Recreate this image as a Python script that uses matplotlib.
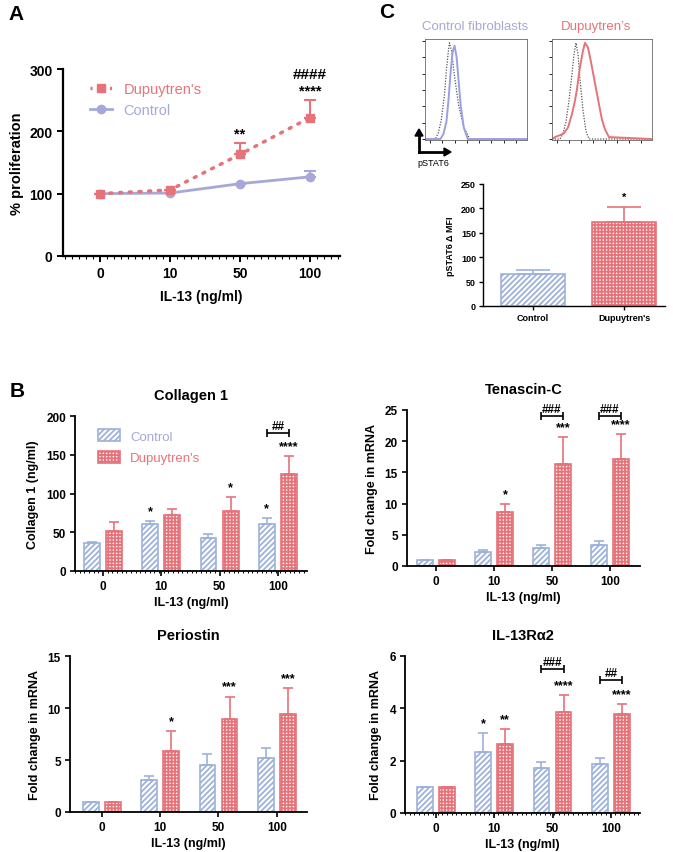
import matplotlib.pyplot as plt
import numpy as np
from matplotlib.patches import Patch
from matplotlib.lines import Line2D

plt.rcParams['font.family'] = ['Liberation Sans', 'DejaVu Sans']
plt.rcParams['hatch.linewidth'] = 1.3

lav = '#a6a9d8'
bar_blue = '#9db2db'
red = '#e6737a'

doses = ['0', '10', '50', '100']

# A - proliferation
prolif_dup = [100, 106, 163, 222]
prolif_dup_err = [0, 0, 19, 28]
prolif_ctrl = [100, 101, 116, 127]
prolif_ctrl_err = [0, 0, 0, 9]

# B - bar panels
col_ctrl = [36, 61, 43, 61]
col_ctrl_err = [2, 4, 5, 7]
col_dup = [51, 72, 77, 125]
col_dup_err = [12, 8, 19, 23]

ten_ctrl = [1.0, 2.2, 2.9, 3.4]
ten_ctrl_err = [0, 0.4, 0.4, 0.6]
ten_dup = [1.0, 8.7, 16.3, 17.1]
ten_dup_err = [0, 1.3, 4.4, 4.0]

per_ctrl = [1.0, 3.1, 4.55, 5.15]
per_ctrl_err = [0, 0.4, 1.0, 1.05]
per_dup = [1.0, 5.9, 8.9, 9.4]
per_dup_err = [0, 1.9, 2.2, 2.55]

ra2_ctrl = [1.0, 2.33, 1.72, 1.86]
ra2_ctrl_err = [0, 0.72, 0.21, 0.24]
ra2_dup = [1.0, 2.65, 3.87, 3.78]
ra2_dup_err = [0, 0.55, 0.63, 0.39]

# C - flow histograms (channel %, count % of max)
iso_l_x = [0, 10, 13, 16, 19, 21, 23, 24, 26, 29, 33, 38, 44, 100]
iso_l_y = [0, 0, 6, 20, 45, 72, 92, 100, 92, 65, 35, 12, 0, 0]
ctl_x = [0, 15, 18, 21, 23, 25, 27, 29, 31, 33, 35, 38, 42, 100]
ctl_y = [0, 0, 5, 18, 40, 68, 90, 97, 85, 60, 35, 12, 0, 0]
iso_r_x = [0, 8, 11, 14, 17, 20, 22, 24, 26, 28, 31, 34, 37, 100]
iso_r_y = [0, 0, 6, 18, 40, 68, 88, 100, 88, 62, 30, 8, 0, 0]
dup_x = [0, 3, 8, 12, 16, 20, 23, 25, 28, 31, 33, 36, 39, 43, 47, 50, 53, 57, 100]
dup_y = [0, 2, 4, 6, 12, 26, 40, 52, 75, 92, 100, 95, 80, 58, 36, 20, 10, 2, 0]

mfi_groups = ['Control', "Dupuytren's"]
mfi_vals = [65, 172]
mfi_err = [9, 31]

W, H = 673, 853
fig = plt.figure(figsize=(W / 100, H / 100), dpi=100)


def box(l, r, t, b):
    return [l / W, 1 - b / H, (r - l) / W, (b - t) / H]


def style(ax, lw=1.3):
    for s in ['top', 'right']:
        ax.spines[s].set_visible(False)
    for s in ['left', 'bottom']:
        ax.spines[s].set_linewidth(lw)


# ---------------- A ----------------
ax = fig.add_axes(box(63, 340, 70, 257))
style(ax, 1.6)
x = np.arange(4)
ax.errorbar(x, prolif_ctrl, yerr=[np.zeros(4), prolif_ctrl_err], color=lav, lw=2,
            marker='o', ms=6, capsize=4, elinewidth=1.5, capthick=1.5)
ax.errorbar(x, prolif_dup, yerr=[np.zeros(4), prolif_dup_err], color=red, lw=2.5,
            ls=(0, (0.6, 2.2)), dash_capstyle='round', marker='s', ms=6,
            capsize=4, elinewidth=1.5, capthick=1.5)
ax.set_xlim(-0.53, 3.43)
ax.set_ylim(0, 300)
ax.set_yticks([0, 100, 200, 300])
ax.set_xticks(x)
ax.set_xticklabels(doses)
ax.set_xticks(np.arange(-0.5, 3.45, 0.1), minor=True)
ax.tick_params(axis='x', which='minor', length=2, width=0.8)
ax.tick_params(labelsize=10, width=1.4, length=4)
for t in ax.get_xticklabels() + ax.get_yticklabels():
    t.set_fontweight('bold')
ax.set_xlabel('IL-13 (ng/ml)', fontsize=10, fontweight='bold', labelpad=6)
ax.set_ylabel('% proliferation', fontsize=10.5, fontweight='bold', labelpad=4)
ax.text(2, 186, '**', ha='center', va='bottom', fontsize=10.5, fontweight='bold')
ax.text(3, 254, '****', ha='center', va='bottom', fontsize=10.5, fontweight='bold')
ax.text(3, 280, '####', ha='center', va='bottom', fontsize=11, fontweight='bold')
hd = [Line2D([], [], color=red, lw=2.5, ls=(0, (0.6, 2.2)), marker='s', ms=6),
      Line2D([], [], color=lav, lw=2, marker='o', ms=6)]
ax.legend(hd, ["Dupuytren's", 'Control'], loc='upper left', bbox_to_anchor=(0.05, 1.0),
          frameon=False, fontsize=10.5, labelcolor=[red, lav], handlelength=1.5,
          labelspacing=0.45)
fig.text(8 / W, 1 - 14 / H, 'A', fontsize=15, fontweight='bold', va='center')

# ---------------- C histograms ----------------
axl = fig.add_axes(box(425, 527, 40, 141))
axr = fig.add_axes(box(552, 652, 40, 141))
axl.plot(iso_l_x, iso_l_y, color='#555555', lw=0.9, ls=(0, (1, 1.2)))
axl.plot(ctl_x, ctl_y, color='#9c9ee2', lw=1.4)
axr.plot(iso_r_x, iso_r_y, color='#555555', lw=0.9, ls=(0, (1, 1.2)))
axr.plot(dup_x, dup_y, color=red, lw=1.4)
for a in (axl, axr):
    a.set_xlim(0, 100)
    a.set_ylim(-1, 104)
    a.set_xticks(np.arange(5, 100, 12))
    a.set_yticks(np.arange(0, 104, 17))
    a.tick_params(length=2, width=0.6, labelbottom=False, labelleft=False)
    for s in a.spines.values():
        s.set_linewidth(0.6)
        s.set_color('#666666')
fig.text(475 / W, 1 - 27 / H, 'Control fibroblasts', color=lav, fontsize=9.5, ha='center', va='center')
fig.text(596 / W, 1 - 27 / H, "Dupuytren\u2019s", color=red, fontsize=9.5, ha='center', va='center')
fig.text(387 / W, 1 - 12 / H, 'C', fontsize=15, fontweight='bold', va='center', ha='center')
fig.add_artist(plt.Line2D([419 / W, 444 / W], [1 - 153 / H, 1 - 153 / H], color='black', lw=2))
fig.add_artist(plt.Line2D([419 / W, 419 / W], [1 - 153 / H, 1 - 137 / H], color='black', lw=2))
fig.add_artist(plt.Polygon([[444 / W, 1 - 149 / H], [451 / W, 1 - 153 / H], [444 / W, 1 - 157 / H]],
                           closed=True, color='black', transform=fig.transFigure))
fig.add_artist(plt.Polygon([[415 / W, 1 - 137 / H], [419 / W, 1 - 130 / H], [423 / W, 1 - 137 / H]],
                           closed=True, color='black', transform=fig.transFigure))
fig.text(417 / W, 1 - 163 / H, 'pSTAT6', fontsize=6.5, va='center')

# ---------------- C bar ----------------
ax = fig.add_axes(box(483, 665, 185, 307))
style(ax, 1.0)
ax.bar(0, mfi_vals[0], 0.7, facecolor='white', edgecolor=bar_blue, hatch='//////', lw=1.2)
ax.bar(1, mfi_vals[1], 0.7, facecolor='white', edgecolor=red, hatch='+++++', lw=1.2)
ax.errorbar([0], [mfi_vals[0]], yerr=[[0], [mfi_err[0]]], fmt='none', ecolor=bar_blue,
            capsize=12, elinewidth=1.2, capthick=1.2)
ax.errorbar([1], [mfi_vals[1]], yerr=[[0], [mfi_err[1]]], fmt='none', ecolor=red,
            capsize=12, elinewidth=1.2, capthick=1.2)
ax.text(1, 214, '*', ha='center', va='bottom', fontsize=8, fontweight='bold')
ax.set_xlim(-0.55, 1.45)
ax.set_ylim(0, 250)
ax.set_yticks(range(0, 251, 50))
ax.set_xticks([0, 1])
ax.set_xticklabels(mfi_groups)
ax.tick_params(labelsize=6.5, width=1, length=3, pad=2)
for t in ax.get_xticklabels() + ax.get_yticklabels():
    t.set_fontweight('bold')
ax.set_ylabel('pSTAT6 \u0394 MFI', fontsize=6.5, fontweight='bold', labelpad=4)


# ---------------- B ----------------
def bar_panel(rect, ctrl, ctrl_err, dup, dup_err, ymax, step, title, ylabel,
              stars, brackets, xlim, legend=False, minor=False):
    ax = fig.add_axes(rect)
    style(ax, 1.3)
    x = np.arange(4)
    off, wd = 0.19, 0.27
    ax.bar(x - off, ctrl, wd, facecolor='white', edgecolor=bar_blue, hatch='//////', lw=1.2,
           label='Control')
    ax.bar(x + off, dup, wd, facecolor='white', edgecolor=red, hatch='+++++', lw=1.2,
           label="Dupuytren's")
    ax.errorbar(x - off, ctrl, yerr=[np.zeros(4), ctrl_err], fmt='none', ecolor=bar_blue,
                capsize=3.5, elinewidth=1.2, capthick=1.2)
    ax.errorbar(x + off, dup, yerr=[np.zeros(4), dup_err], fmt='none', ecolor=red,
                capsize=3.5, elinewidth=1.2, capthick=1.2)
    pad = ymax * 0.025
    for g, s, lab in stars:
        xs = g - off if s == 0 else g + off
        top = (ctrl[g] + ctrl_err[g]) if s == 0 else (dup[g] + dup_err[g])
        ax.text(xs, top + pad, lab, ha='center', va='bottom', fontsize=9, fontweight='bold')
    for g, y, lab in brackets:
        ax.errorbar([g], [y], xerr=[[off], [off]], fmt='none', ecolor='black',
                    capsize=3, elinewidth=1.2, capthick=1.2)
        ax.text(g, y + ymax * 0.01, lab, ha='center', va='bottom', fontsize=8.5,
                fontweight='bold')
    ax.set_xlim(*xlim)
    ax.set_ylim(0, ymax)
    ax.set_yticks(np.arange(0, ymax + step / 2, step))
    ax.set_xticks(x)
    ax.set_xticklabels(doses)
    if minor:
        ax.set_xticks(np.arange(xlim[0], xlim[1], 0.08), minor=True)
        ax.tick_params(axis='x', which='minor', length=1.5, width=0.7)
    ax.tick_params(labelsize=8.5, width=1.2, length=3.5, pad=3)
    for t in ax.get_xticklabels() + ax.get_yticklabels():
        t.set_fontweight('bold')
    ax.set_title(title, fontsize=10.5, fontweight='bold', pad=12)
    ax.set_xlabel('IL-13 (ng/ml)', fontsize=9, fontweight='bold', labelpad=3)
    ax.set_ylabel(ylabel, fontsize=9, fontweight='bold', labelpad=5)
    if legend:
        hd = [Patch(facecolor='white', edgecolor=bar_blue, hatch='//////', lw=1.2),
              Patch(facecolor='white', edgecolor=red, hatch='+++++', lw=1.2)]
        ax.legend(hd, ['Control', "Dupuytren's"], loc='upper left', bbox_to_anchor=(0.05, 0.99),
                  frameon=False, fontsize=9.5, labelcolor=[lav, red], handlelength=1.6,
                  handleheight=1.0, labelspacing=0.6)
    return ax


bar_panel(box(75, 307, 417, 572), col_ctrl, col_ctrl_err, col_dup, col_dup_err, 200, 50,
          'Collagen 1', 'Collagen 1 (ng/ml)',
          [(1, 0, '*'), (2, 1, '*'), (3, 0, '*'), (3, 1, '****')],
          [(3, 178, '##')], (-0.48, 3.5), legend=True, minor=True)
bar_panel(box(407, 640, 411, 567), ten_ctrl, ten_ctrl_err, ten_dup, ten_dup_err, 25, 5,
          'Tenascin-C', 'Fold change in mRNA',
          [(1, 1, '*'), (2, 1, '***'), (3, 1, '****')],
          [(2, 24.0, '###'), (3, 24.0, '###')], (-0.5, 3.52))
bar_panel(box(70, 307, 657, 813), per_ctrl, per_ctrl_err, per_dup, per_dup_err, 15, 5,
          'Periostin', 'Fold change in mRNA',
          [(1, 1, '*'), (2, 1, '***'), (3, 1, '***')],
          [], (-0.55, 3.52))
bar_panel(box(405, 640, 657, 814), ra2_ctrl, ra2_ctrl_err, ra2_dup, ra2_dup_err, 6, 2,
          'IL-13R\u03b12', 'Fold change in mRNA',
          [(1, 0, '*'), (1, 1, '**'), (2, 1, '****'), (3, 1, '****')],
          [(2, 5.5, '###'), (3, 5.08, '##')], (-0.53, 3.5), minor=True)
fig.text(10 / W, 1 - 392 / H, 'B', fontsize=15, fontweight='bold', va='center')

fig.savefig('out.png', dpi=100)
